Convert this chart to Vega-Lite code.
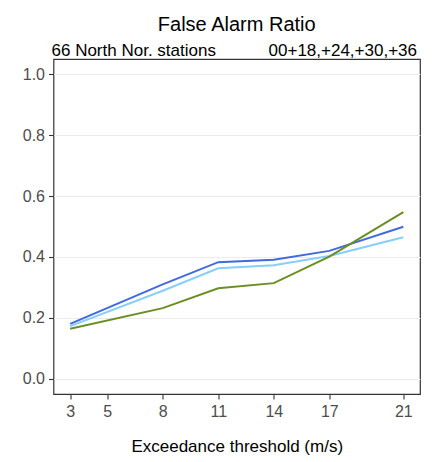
{
  "$schema": "https://vega.github.io/schema/vega-lite/v6.json",
  "autosize": "none",
  "width": 366.5,
  "height": 335,
  "padding": {"left": 53.5, "top": 59, "right": 18, "bottom": 68},
  "title": {"text": "False Alarm Ratio", "anchor": "middle", "font": "Liberation Sans", "fontSize": 20, "fontWeight": "normal", "color": "#000000", "offset": 6},
  "config": {
    "font": "Liberation Sans",
    "view": {"stroke": "#333333", "strokeWidth": 1.2},
    "axis": {"domain": false, "grid": false, "tickColor": "#333333", "tickWidth": 1.1, "tickSize": 5, "labelColor": "#4d4d4d", "labelFontSize": 16, "labelFont": "Liberation Sans", "titleFont": "Liberation Sans", "titleFontWeight": "normal", "titleColor": "#000000", "titleFontSize": 17}
  },
  "data": {"values": [
    {"threshold": 3, "far": 0.180, "series": "a"},
    {"threshold": 8, "far": 0.310, "series": "a"},
    {"threshold": 11, "far": 0.383, "series": "a"},
    {"threshold": 14, "far": 0.391, "series": "a"},
    {"threshold": 17, "far": 0.420, "series": "a"},
    {"threshold": 21, "far": 0.499, "series": "a"},
    {"threshold": 3, "far": 0.173, "series": "b"},
    {"threshold": 8, "far": 0.289, "series": "b"},
    {"threshold": 11, "far": 0.363, "series": "b"},
    {"threshold": 14, "far": 0.373, "series": "b"},
    {"threshold": 17, "far": 0.403, "series": "b"},
    {"threshold": 21, "far": 0.465, "series": "b"},
    {"threshold": 3, "far": 0.164, "series": "c"},
    {"threshold": 8, "far": 0.232, "series": "c"},
    {"threshold": 11, "far": 0.297, "series": "c"},
    {"threshold": 14, "far": 0.314, "series": "c"},
    {"threshold": 17, "far": 0.401, "series": "c"},
    {"threshold": 21, "far": 0.547, "series": "c"}
  ]},
  "layer": [
    {
      "mark": {"type": "line", "strokeWidth": 2},
      "encoding": {
        "x": {"field": "threshold", "type": "quantitative", "scale": {"domain": [2.1, 21.9], "nice": false, "zero": false},
          "axis": {"orient": "bottom", "values": [3, 5, 8, 11, 14, 17, 21], "labelPadding": 4, "title": "Exceedance threshold (m/s)", "titlePadding": 19}},
        "y": {"field": "far", "type": "quantitative", "scale": {"domain": [-0.05, 1.05], "nice": false, "zero": false},
          "axis": {"orient": "left", "values": [0, 0.2, 0.4, 0.6, 0.8, 1.0], "format": ".1f", "grid": true, "gridColor": "#ebebeb", "gridWidth": 1.2, "labelPadding": 4,
            "title": "66 North Nor. stations", "titleAngle": 0, "titleAlign": "left", "titleBaseline": "alphabetic", "titleX": -2.5, "titleY": -4, "titleFontSize": 17}},
        "color": {"field": "series", "type": "nominal", "scale": {"domain": ["a", "b", "c"], "range": ["#4169E1", "#87CEFA", "#6B8E23"]}, "legend": null}
      }
    },
    {
      "mark": {"type": "line", "opacity": 0},
      "encoding": {
        "x": {"field": "threshold", "type": "quantitative",
          "axis": {"orient": "top", "labels": false, "ticks": false, "domain": false, "grid": false,
            "title": "00+18,+24,+30,+36", "titleAlign": "right", "titleAnchor": "end", "titleBaseline": "alphabetic", "titleX": 363, "titleY": -4, "titleFontSize": 17}},
        "y": {"field": "far", "type": "quantitative"},
        "detail": {"field": "series", "type": "nominal"}
      }
    }
  ],
  "resolve": {"axis": {"x": "independent"}}
}
